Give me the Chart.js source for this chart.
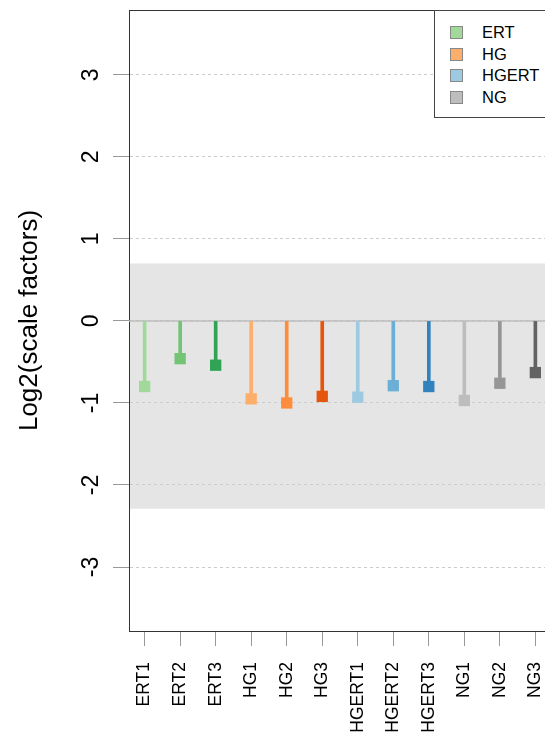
<!DOCTYPE html>
<html lang="en">
<head>
  <meta charset="UTF-8">
  <title>Log2(scale factors)</title>
  <style>
    body { margin: 0; background: #fff; overflow: hidden; font-family: 'Liberation Sans', Arial, sans-serif; }
    .wrap { position: relative; width: 560px; height: 736px; }
    #legend { position: absolute; left: 434px; top: 10px; width: 140px; height: 108px; border: 1px solid #444; background: #fff; box-sizing: border-box; padding-top: 11px; }
    #legend .item { height: 21.7px; line-height: 21.7px; font-size: 16.5px; color: #000; white-space: nowrap; }
    #legend .box { display: inline-block; width: 11px; height: 11px; border: 1px solid #888; margin: 0 19px 0 15px; vertical-align: -1px; }
  </style>
  <script src="https://cdn.jsdelivr.net/npm/chart.js"></script>
</head>
<body>
<div class="wrap">
  <canvas id="sfChart" width="560" height="736"></canvas>
  <div id="legend"></div>
</div>

<script>
const sampleLabels = ['ERT1', 'ERT2', 'ERT3', 'HG1', 'HG2', 'HG3', 'HGERT1', 'HGERT2', 'HGERT3', 'NG1', 'NG2', 'NG3'];
const scaleFactors = [-0.80, -0.46, -0.54, -0.95, -1.00, -0.92, -0.93, -0.79, -0.80, -0.97, -0.76, -0.63];
const sampleColors = ['#a1d99b', '#74c476', '#31a354', '#fdae6b', '#fd8d3c', '#e6550d', '#9ecae1', '#6baed6', '#3182bd', '#bdbdbd', '#969696', '#636363'];
const groupNames = ['ERT', 'HG', 'HGERT', 'NG'];
const groupColors = ['#a1d99b', '#fdae6b', '#9ecae1', '#bdbdbd'];
const yTicks = [-3, -2, -1, 0, 1, 2, 3];
const yRange = [-3.78, 3.79];
const bandRange = [-2.29, 0.70];

// legend
const legend = document.getElementById('legend');
groupNames.forEach((g, i) => {
  const row = document.createElement('div');
  row.className = 'item';
  row.innerHTML = `<span class="box" style="background:${groupColors[i]}"></span>${g}`;
  legend.appendChild(row);
});

// gray band, zero line and top border
const decorations = {
  id: 'decorations',
  beforeDraw(chart) {
    const { ctx, chartArea, scales } = chart;
    const y1 = scales.y.getPixelForValue(bandRange[1]);
    const y0 = scales.y.getPixelForValue(bandRange[0]);
    ctx.save();
    ctx.fillStyle = '#e5e5e5';
    ctx.fillRect(chartArea.left, y1, chartArea.right - chartArea.left, y0 - y1);
    ctx.restore();
  },
  beforeDatasetsDraw(chart) {
    const { ctx, chartArea, scales } = chart;
    const yz = scales.y.getPixelForValue(0);
    ctx.save();
    ctx.strokeStyle = '#bdbdbd';
    ctx.lineWidth = 1.5;
    ctx.beginPath();
    ctx.moveTo(chartArea.left, yz);
    ctx.lineTo(chartArea.right, yz);
    ctx.stroke();
    ctx.strokeStyle = '#333';
    ctx.lineWidth = 1;
    ctx.beginPath();
    ctx.moveTo(chartArea.left, chartArea.top + 0.5);
    ctx.lineTo(chartArea.right, chartArea.top + 0.5);
    ctx.stroke();
    ctx.restore();
  }
};

const fontFamily = "'Liberation Sans', Arial, sans-serif";
const noPad = s => { s.paddingTop = 0; s.paddingBottom = 0; s.paddingLeft = 0; s.paddingRight = 0; };

new Chart(document.getElementById('sfChart'), {
  type: 'bar',
  data: {
    datasets: [
      {
        type: 'line',
        data: scaleFactors.map((v, i) => ({ x: i + 1, y: v })),
        showLine: false,
        pointStyle: 'rect',
        pointRadius: 8,
        pointBorderWidth: 0,
        pointBackgroundColor: sampleColors,
        order: 1
      },
      {
        data: scaleFactors.map((v, i) => ({ x: i + 1, y: [0, v] })),
        backgroundColor: sampleColors,
        barThickness: 3,
        order: 2
      }
    ]
  },
  options: {
    responsive: false,
    animation: false,
    layout: { padding: { top: 10, right: 9, left: 0, bottom: 0 } },
    plugins: { legend: { display: false }, tooltip: { enabled: false } },
    scales: {
      x: {
        type: 'linear',
        offset: false,
        min: 0.56,
        max: 12.44,
        afterBuildTicks: s => { s.ticks = sampleLabels.map((l, i) => ({ value: i + 1 })); },
        afterFit: s => { s.height = 105; noPad(s); },
        grid: { offset: false, drawOnChartArea: false, drawTicks: true, tickLength: 15, tickColor: '#999', tickWidth: 1, tickBorderDash: [] },
        border: { color: '#333', width: 1 },
        ticks: {
          minRotation: 90, maxRotation: 90, padding: 16, color: '#000',
          font: { family: fontFamily, size: 17.5 },
          callback: v => sampleLabels[v - 1]
        }
      },
      y: {
        min: yRange[0],
        max: yRange[1],
        afterBuildTicks: s => { s.ticks = yTicks.map(v => ({ value: v })); },
        afterFit: s => { s.width = 129; noPad(s); },
        grid: { color: '#cccccc', tickLength: 16, tickColor: '#999', tickBorderDash: [], tickWidth: 1 },
        border: { color: '#333', width: 1, dash: [3, 3] },
        ticks: {
          minRotation: 90, maxRotation: 90, padding: 11, color: '#000', crossAlign: 'center',
          font: { family: fontFamily, size: 23 },
          callback: v => String(v)
        },
        title: {
          display: true, text: 'Log2(scale factors)', color: '#000',
          font: { family: fontFamily, size: 26 }, padding: { top: 14, bottom: 0 }
        }
      }
    }
  },
  plugins: [decorations]
});
</script>
</body>
</html>
